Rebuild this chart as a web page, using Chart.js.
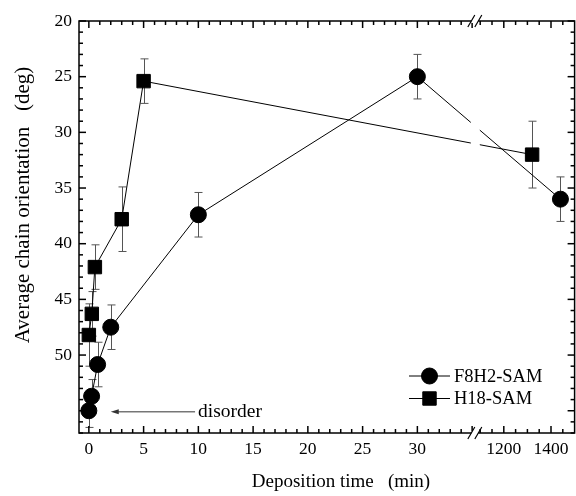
<!DOCTYPE html>
<html>
<head>
<meta charset="utf-8">
<script src="https://cdn.jsdelivr.net/npm/chart.js@4.4.0/dist/chart.umd.min.js"></script>
<style>
  html, body { margin: 0; padding: 0; background: #fff; }
</style>
</head>
<body>
<canvas id="plot" width="576" height="496"></canvas>
<script>
// deposition time (min) vs average chain orientation (deg)
const f8h2Time = [0, 0.25, 0.8, 2, 10, 30, 1440];
const f8h2Angle = [55.0, 53.7, 50.85, 47.5, 37.4, 25.0, 36.0];
const f8h2Err = [1.5, 1.5, 2, 2, 2, 2, 2];

const h18Time = [0, 0.27, 0.55, 3, 5, 1320];
const h18Angle = [48.2, 46.3, 42.1, 37.8, 25.4, 32.0];
const h18Err = [2.8, 2, 2, 2.9, 2, 3];

const xTickLabels = [0, 5, 10, 15, 20, 25, 30, 1200, 1400];
const yTickLabels = [20, 25, 30, 35, 40, 45, 50];

// broken time axis: linear up to BREAK_AT, then compressed from RESUME_AT
const BREAK_AT = 35.2;
const RESUME_AT = 1075;
const LONG_SCALE = 0.02155;
const X_MIN = -0.9;
const X_MAX_MIN = 1500;
const Y_MIN = 20, Y_MAX = 57;

function toAxis(t) { return t <= BREAK_AT ? t : BREAK_AT + (t - RESUME_AT) * LONG_SCALE; }
function fromAxis(u) { return u <= BREAK_AT ? u : RESUME_AT + (u - BREAK_AT) / LONG_SCALE; }

const FONT = "'Liberation Serif', 'Times New Roman', serif";

function points(times, vals) {
    return times.map((t, i) => ({ x: toAxis(t), y: vals[i] }));
}

function tick(ctx, x0, y0, x1, y1) {
    ctx.beginPath();
    ctx.moveTo(x0, y0);
    ctx.lineTo(x1, y1);
    ctx.stroke();
}

const errorBars = {
    id: 'errorBars',
    beforeDatasetsDraw(chart) {
        const { ctx, scales: { x, y } } = chart;
        const sets = [[f8h2Time, f8h2Angle, f8h2Err], [h18Time, h18Angle, h18Err]];
        ctx.save();
        ctx.strokeStyle = '#555';
        ctx.lineWidth = 1;
        sets.forEach(([ts, vs, es]) => {
            ts.forEach((t, i) => {
                const px = Math.round(x.getPixelForValue(toAxis(t))) + 0.5;
                const top = y.getPixelForValue(vs[i] - es[i]);
                const bot = y.getPixelForValue(vs[i] + es[i]);
                tick(ctx, px, top, px, bot);
                tick(ctx, px - 4, top, px + 4, top);
                tick(ctx, px - 4, bot, px + 4, bot);
            });
        });
        ctx.restore();
    }
};

const axisFrame = {
    id: 'axisFrame',
    afterDatasetsDraw(chart) {
        const { ctx, chartArea: a, scales: { x } } = chart;
        // gap in the connecting lines where the axis is broken
        const bx = x.getPixelForValue(BREAK_AT);
        ctx.save();
        ctx.fillStyle = '#fff';
        ctx.fillRect(bx - 3.5, a.top + 2, 9, a.bottom - a.top - 4);
        ctx.restore();
    },
    afterDraw(chart) {
        const { ctx, chartArea: a, scales: { x, y } } = chart;
        ctx.save();
        ctx.strokeStyle = '#000';
        ctx.lineWidth = 1.5;
        ctx.strokeRect(a.left, a.top, a.right - a.left, a.bottom - a.top);

        // x ticks, inward on bottom and top
        const xt = [];
        for (let t = 0; t <= BREAK_AT; t++) xt.push([t, t % 5 === 0]);
        for (let t = 1100; t <= X_MAX_MIN; t += 50) xt.push([t, t % 200 === 0]);
        xt.forEach(([t, major]) => {
            const px = x.getPixelForValue(toAxis(t));
            if (px > a.right - 2) return;
            const len = major ? 7 : 4;
            tick(ctx, px, a.bottom, px, a.bottom - len);
            tick(ctx, px, a.top, px, a.top + len);
        });
        // y ticks, inward on left and right
        for (let v = Y_MIN; v <= Y_MAX; v++) {
            const py = y.getPixelForValue(v);
            const len = v % 5 === 0 ? 7 : 4;
            tick(ctx, a.left, py, a.left + len, py);
            tick(ctx, a.right, py, a.right - len, py);
        }

        // axis break marks
        ctx.lineWidth = 1.2;
        const bx = x.getPixelForValue(BREAK_AT);
        [a.top, a.bottom].forEach(ay => {
            ctx.fillStyle = '#fff';
            ctx.fillRect(bx - 3, ay - 2, 7, 4);
            [bx - 3, bx + 4].forEach(sx => tick(ctx, sx - 3.5, ay + 6, sx + 3.5, ay - 6));
        });

        // annotation arrow for the disordered film
        ctx.lineWidth = 1;
        const ay = y.getPixelForValue(55.1);
        const ax0 = x.getPixelForValue(9.7), ax1 = x.getPixelForValue(2.0);
        ctx.strokeStyle = '#333';
        tick(ctx, ax0, ay, ax1 + 6, ay);
        ctx.fillStyle = '#333';
        ctx.beginPath();
        ctx.moveTo(ax1, ay); ctx.lineTo(ax1 + 8, ay - 2.5); ctx.lineTo(ax1 + 8, ay + 2.5);
        ctx.closePath(); ctx.fill();
        ctx.fillStyle = '#000';
        ctx.font = '19.5px ' + FONT;
        ctx.textBaseline = 'middle';
        ctx.fillText('disorder', ax0 + 3, ay);

        // legend
        ctx.font = '18.5px ' + FONT;
        const legend = [['F8H2-SAM', 'circle', 8, 376], ['H18-SAM', 'rect', 9.5, 398.5]];
        legend.forEach(([label, style, r, ly]) => {
            ctx.strokeStyle = '#000';
            tick(ctx, 409, ly, 450, ly);
            ctx.fillStyle = '#000';
            Chart.helpers.drawPoint(ctx, { pointStyle: style, radius: r, borderWidth: 1 }, 429.5, ly);
            ctx.fillText(label, 454, ly + 1);
        });

        // axis titles
        ctx.font = '19px ' + FONT;
        ctx.textAlign = 'center';
        ctx.textBaseline = 'middle';
        ctx.fillText('Deposition time   (min)', 341, 482);
        ctx.font = '21px ' + FONT;
        ctx.translate(23, 205);
        ctx.rotate(-Math.PI / 2);
        ctx.fillText('Average chain orientation   (deg)', 0, 0);
        ctx.restore();
    }
};

new Chart(document.getElementById('plot'), {
    type: 'scatter',
    data: {
        datasets: [
            {
                label: 'F8H2-SAM',
                data: points(f8h2Time, f8h2Angle),
                showLine: true,
                borderColor: '#000',
                borderWidth: 1,
                backgroundColor: '#000',
                pointStyle: 'circle',
                pointRadius: 8,
                pointBorderWidth: 1
            },
            {
                label: 'H18-SAM',
                data: points(h18Time, h18Angle),
                showLine: true,
                borderColor: '#000',
                borderWidth: 1,
                backgroundColor: '#000',
                pointStyle: 'rect',
                pointRadius: 9.5,
                pointBorderWidth: 1
            }
        ]
    },
    options: {
        responsive: false,
        devicePixelRatio: 1,
        animation: false,
        layout: { autoPadding: false, padding: { top: 21, right: 1.4, left: 0, bottom: 0 } },
        plugins: { legend: { display: false }, tooltip: { enabled: false } },
        scales: {
            x: {
                type: 'linear',
                min: X_MIN,
                max: toAxis(X_MAX_MIN),
                grid: { display: false, drawTicks: false },
                border: { display: false },
                afterBuildTicks: s => { s.ticks = xTickLabels.map(t => ({ value: toAxis(t) })); },
                afterFit: s => { s.height = 63; s.paddingLeft = 0; s.paddingRight = 0; },
                ticks: {
                    autoSkip: false,
                    maxRotation: 0,
                    padding: 6,
                    color: '#000',
                    font: { family: FONT, size: 17.5 },
                    callback: v => String(Math.round(fromAxis(v)))
                }
            },
            y: {
                reverse: true,
                min: Y_MIN,
                max: Y_MAX,
                grid: { display: false, drawTicks: false },
                border: { display: false },
                afterBuildTicks: s => { s.ticks = yTickLabels.map(v => ({ value: v })); },
                afterFit: s => { s.width = 79; s.paddingTop = 0; s.paddingBottom = 0; },
                ticks: {
                    padding: 7,
                    color: '#000',
                    font: { family: FONT, size: 17.5 }
                }
            }
        }
    },
    plugins: [errorBars, axisFrame]
});
</script>
</body>
</html>
